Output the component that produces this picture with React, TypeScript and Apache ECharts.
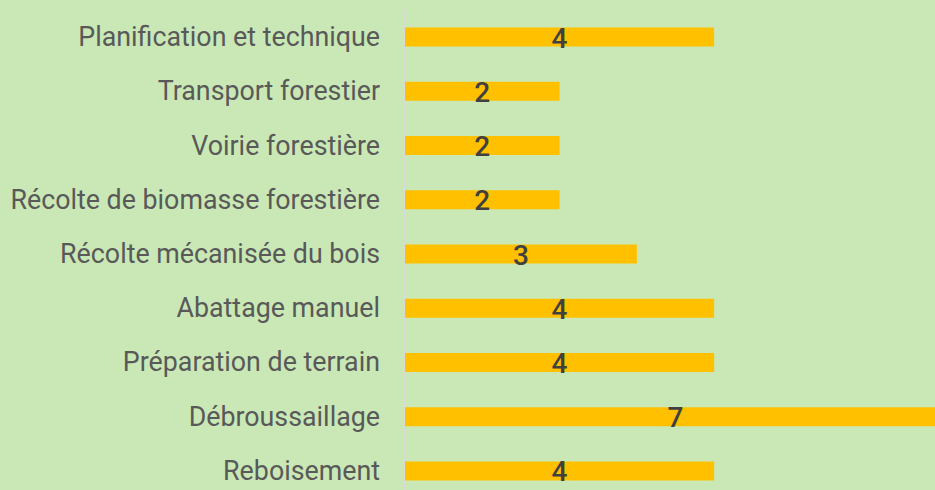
import React, { useEffect, useRef } from "react";
import * as echarts from "echarts";

const categories = [
  "Planification et technique",
  "Transport forestier",
  "Voirie forestière",
  "Récolte de biomasse forestière",
  "Récolte mécanisée du bois",
  "Abattage manuel",
  "Préparation de terrain",
  "Débroussaillage",
  "Reboisement",
];
const values = [4, 2, 2, 2, 3, 4, 4, 7, 4];

export default function App() {
  const ref = useRef<HTMLDivElement>(null);
  useEffect(() => {
    if (!ref.current) return;
    const chart = echarts.init(ref.current, undefined, { renderer: "svg" });
    chart.setOption({
      animation: false,
      backgroundColor: "#C9E8B5",
      grid: { left: 405, right: 0, top: 10, bottom: 0, containLabel: false },
      xAxis: {
        type: "value",
        min: 0,
        max: 7,
        show: false,
      },
      yAxis: {
        type: "category",
        data: categories,
        inverse: true,
        axisLine: { show: true, lineStyle: { color: "#D9D9D9", width: 2 } },
        axisTick: { show: false },
        axisLabel: {
          color: "#595959",
          fontSize: 26.8,
          fontFamily: "Roboto",
          margin: 25,
          padding: [0, 0, 3, 0],
        },
      },
      series: [
        {
          type: "bar",
          data: values,
          barWidth: 19,
          itemStyle: { color: "#FFC000" },
          label: {
            show: true,
            position: "inside",
            color: "#404040",
            fontSize: 28,
            fontWeight: 500,
            fontFamily: "Roboto",
            offset: [0, 1],
          },
        },
      ],
    });
    return () => chart.dispose();
  }, []);
  return (
    <div
      ref={ref}
      style={{ position: "fixed", left: 0, top: 0, width: 946, height: 498 }}
    />
  );
}
